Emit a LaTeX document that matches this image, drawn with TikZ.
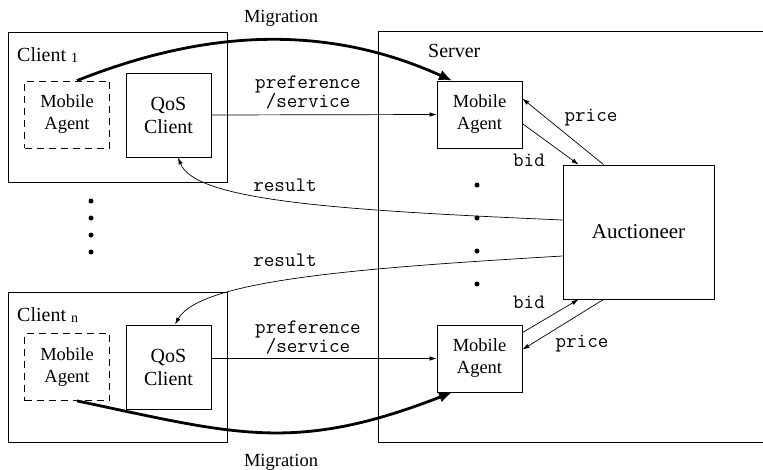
\documentclass[tikz,border=0pt]{standalone}
\usepackage{fontspec}
\setmainfont{Liberation Serif}
\usetikzlibrary{arrows.meta}

\tikzset{
  box/.style={draw, line width=0.8pt, inner sep=0pt, align=center,
    font=\fontsize{18.5}{22}\selectfont},
  agentbox/.style={box, minimum width=85pt, minimum height=67pt},
  dashbox/.style={agentbox, dash pattern=on 7pt off 5pt},
  qosbox/.style={box, minimum width=85pt, minimum height=84pt,
    font=\fontsize{20}{23}\selectfont},
  clientbox/.style={box, minimum width=219pt, minimum height=150pt},
  boxlabel/.style={anchor=base west, inner sep=0pt, font=\fontsize{20}{24}\selectfont},
  msg/.style={inner sep=0pt, align=center, font=\ttfamily\fontsize{20.5}{19}\selectfont},
  flow/.style={line width=0.7pt, -{Latex[length=7pt,width=4.5pt]}},
  migrate/.style={line width=2.8pt, -{Latex[length=13pt,width=11pt]}},
  migtext/.style={inner sep=0pt, font=\fontsize{18.5}{22}\selectfont},
  vdot/.style={circle, fill, inner sep=0pt, minimum size=5pt}
}

\begin{document}
\begin{tikzpicture}[x=1pt, y=-1pt]
\useasboundingbox (0,0) rectangle (763,469);
\clip (0,0) rectangle (763,469);

% server side
\node[box, minimum width=412pt, minimum height=411pt] (server) at (584,236.5) {};
\node[boxlabel] (serverlbl) at (428,57) {Server};
\node[agentbox] (ma1) at (479.5,114.5) {Mobile\\Agent};
\node[agentbox] (man) at (479.5,358.5) {Mobile\\Agent};
\node[box, minimum width=151pt, minimum height=134pt,
      font=\fontsize{21}{24}\selectfont] (auct) at (638.5,232) {Auctioneer};

% client 1
\node[clientbox] (c1) at (117.5,107) {};
\node[boxlabel] (c1lbl) at (17,61) {Client \raisebox{-1.5pt}{\fontsize{14}{14}\selectfont 1}};
\node[dashbox] (dma1) at (67,114.5) {Mobile\\Agent};
\node[qosbox] (qos1) at (168.5,115) {QoS\\Client};

% client n
\node[clientbox] (cn) at (117.5,367) {};
\node[boxlabel] (cnlbl) at (17,321) {Client \raisebox{-1.5pt}{\fontsize{14}{14}\selectfont n}};
\node[dashbox] (dman) at (67,367) {Mobile\\Agent};
\node[qosbox] (qosn) at (168.5,367) {QoS\\Client};

% ellipsis dots
\foreach \y [count=\i] in {201,218,235,252} \node[vdot] (ldot\i) at (91,\y) {};
\foreach \y [count=\i] in {185,218,251,284} \node[vdot] (sdot\i) at (477,\y) {};

% preference / service requests
\draw[flow] (qos1.east) -- (ma1.west);
\node[msg] (pref1) at (308,93) {preference\\/service};
\draw[flow] (qosn.east |- man.west) -- (man.west);
\node[msg] (prefn) at (308,338) {preference\\/service};

% bidding, upper agent
\draw[flow] ([xshift=41pt]auct.north west) -- ([yshift=-18pt]ma1.north east);
\draw[flow] ([yshift=-43pt]ma1.north east) -- ([xshift=16pt]auct.north west);
\node[msg] (price1) at (591,118) {price};
\node[msg] (bid1) at (529,160) {bid};

% bidding, lower agent
\draw[flow] ([yshift=-8pt]man.north east) -- ([xshift=16pt]auct.south west);
\draw[flow] ([xshift=41pt]auct.south west) -- ([yshift=-25pt]man.north east);
\node[msg] (bidn) at (529,302) {bid};
\node[msg] (pricen) at (582,344) {price};

% results back to the clients
\draw[flow] ([yshift=12pt]auct.west) .. controls (330,210) and (195,200) .. ([xshift=9.5pt]qos1.south);
\node[msg] (res1) at (285,185) {result};
\draw[flow] ([yshift=-24pt]auct.west) .. controls (360,268) and (200,280) .. ([xshift=6.5pt]qosn.north);
\node[msg] (resn) at (285,260) {result};

% agent migration
\draw[migrate] ([xshift=10pt]dma1.north) .. controls (204,30) and (325,23) .. ([xshift=-27.5pt]ma1.north);
\node[migtext] (mig1) at (281,18) {Migration};
\draw[migrate] ([xshift=10pt]dman.south) .. controls (235,434) and (294,454) .. ([xshift=-27.5pt]man.south);
\node[migtext] (mign) at (281,462) {Migration};
\end{tikzpicture}
\end{document}
